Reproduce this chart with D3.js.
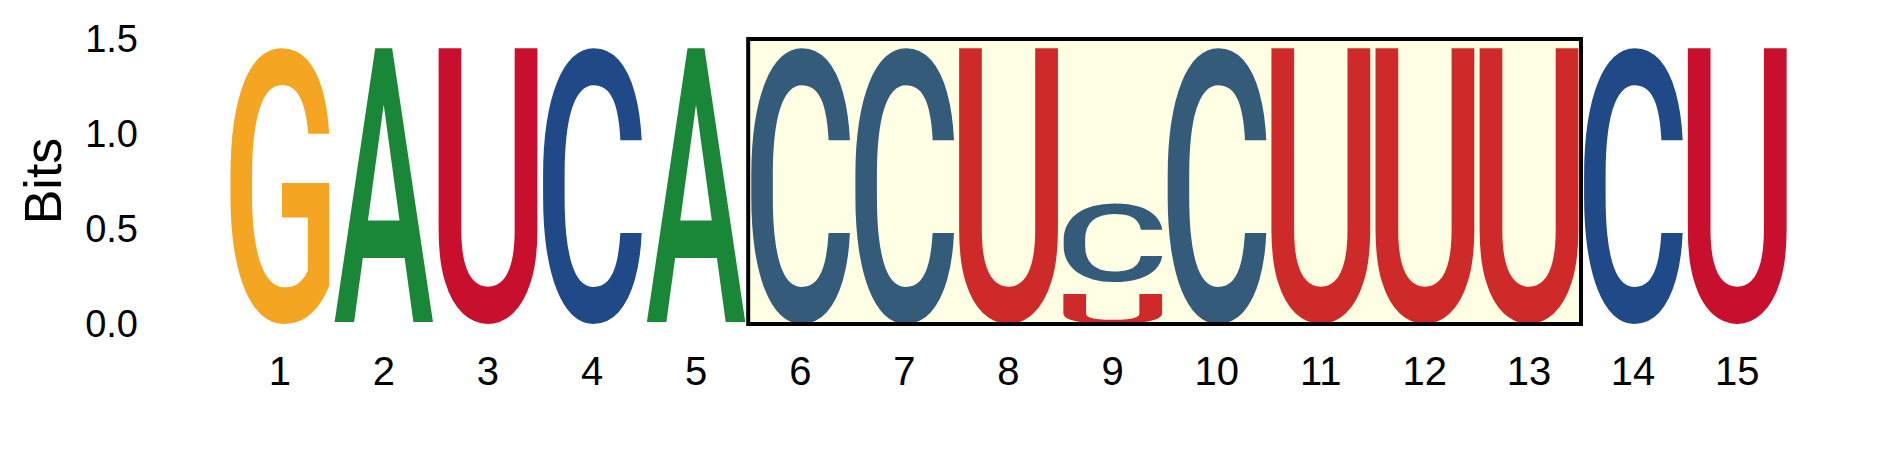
<!DOCTYPE html>
<html>
<head>
<meta charset="utf-8">
<script src="https://cdn.jsdelivr.net/npm/d3@7"></script>
<style>
  html, body { margin: 0; padding: 0; background: #ffffff; }
  svg { display: block; }
</style>
</head>
<body>
<svg id="chart" width="1889" height="472"></svg>
<script>
// ---------------- data ----------------
const positions = [1, 2, 3, 4, 5, 6, 7, 8, 9, 10, 11, 12, 13, 14, 15];
const positionLabels = ["1", "2", "3", "4", "5", "6", "7", "8", "9", "10", "11", "12", "13", "14", "15"];
// stacked letters, listed bottom-up within each position
const stackPos    = [1,    2,    3,    4,    5,    6,    7,    8,    9,    9,    10,   11,   12,   13,   14,   15];
const stackLetter = ["G",  "A",  "U",  "C",  "A",  "C",  "C",  "U",  "U",  "C",  "C",  "U",  "U",  "U",  "C",  "U"];
const stackBits   = [1.46, 1.46, 1.46, 1.46, 1.46, 1.46, 1.46, 1.46, 0.16, 0.48, 1.46, 1.46, 1.46, 1.46, 1.46, 1.46];
const yTicks = [0.0, 0.5, 1.0, 1.5];
const highlightRange = [6, 13];
const yTitle = "Bits";

// ---------------- styles ----------------
const normalColor = { G: "#F4A622", A: "#1A8738", U: "#C8102E", C: "#1F4A87" };
const highlightColor = { G: "#F4A622", A: "#1A8738", U: "#CF2A2A", C: "#345B7A" };
const glyphFont = 'Roboto, "Liberation Sans", Arial, sans-serif';
const glyphWeight = 500;
const labelFont = '"Liberation Sans", Arial, Helvetica, sans-serif';
const stackGap = 12;

function draw() {
  const svg = d3.select("#chart");

  const x = d3.scaleBand()
    .domain(positions)
    .range([227.7, 1789.2])
    .paddingInner(0.0442)
    .paddingOuter(0.0221);

  const y = d3.scaleLinear().domain([0, 1.5]).range([324, 39]);

  // ---- highlight box background ----
  const step = x.step();
  const gapHalf = (step - x.bandwidth()) / 2;
  const boxX0 = x(highlightRange[0]) - gapHalf;
  const boxX1 = x(highlightRange[1]) + x.bandwidth() + gapHalf;
  const boxY0 = y(1.5), boxY1 = y(0);

  svg.append("rect")
    .attr("x", boxX0).attr("y", boxY0)
    .attr("width", boxX1 - boxX0).attr("height", boxY1 - boxY0)
    .attr("fill", "#FFFFE3");

  // ---- glyph measuring ----
  const canvas = document.createElement("canvas");
  const ctx = canvas.getContext("2d");
  const FS = 200;
  ctx.font = `${glyphWeight} ${FS}px ${glyphFont}`;
  const inkCache = {};
  function ink(ch) {
    if (!inkCache[ch]) {
      const m = ctx.measureText(ch);
      inkCache[ch] = {
        l: -m.actualBoundingBoxLeft,
        r: m.actualBoundingBoxRight,
        t: -m.actualBoundingBoxAscent,
        b: m.actualBoundingBoxDescent
      };
    }
    return inkCache[ch];
  }

  // ---- build stacks ----
  const stacks = [];
  const cum = {};
  stackPos.forEach((p, i) => {
    const base = cum[p] || 0;
    stacks.push({ pos: p, letter: stackLetter[i], bits: stackBits[i], base: base, stacked: base > 0 });
    cum[p] = base + stackBits[i];
  });

  svg.append("g").selectAll("text.glyph")
    .data(stacks)
    .join("text")
    .attr("class", "glyph")
    .text(d => d.letter)
    .attr("font-family", glyphFont)
    .attr("font-weight", glyphWeight)
    .attr("font-size", FS)
    .attr("fill", d => (d.pos >= highlightRange[0] && d.pos <= highlightRange[1]) ? highlightColor[d.letter] : normalColor[d.letter])
    .attr("transform", d => {
      const k = ink(d.letter);
      const x0 = x(d.pos);
      const w = x.bandwidth();
      const yTop = y(d.base + d.bits);
      const yBot = y(d.base) - (d.stacked ? stackGap : 0);
      const h = yBot - yTop;
      const sx = w / (k.r - k.l);
      const sy = h / (k.b - k.t);
      return `translate(${x0},${yTop}) scale(${sx},${sy}) translate(${-k.l},${-k.t})`;
    });

  // ---- highlight box outline (on top) ----
  svg.append("rect")
    .attr("x", boxX0).attr("y", boxY0)
    .attr("width", boxX1 - boxX0).attr("height", boxY1 - boxY0)
    .attr("fill", "none")
    .attr("stroke", "#000")
    .attr("stroke-width", 4);

  // ---- y axis (labels only) ----
  const yAxis = d3.axisLeft(y).tickValues(yTicks).tickFormat(d3.format(".1f")).tickSize(0).tickPadding(0);
  const gy = svg.append("g").attr("transform", "translate(138,0)").call(yAxis);
  gy.select(".domain").remove();
  gy.selectAll("text")
    .attr("font-family", labelFont)
    .attr("font-size", 38)
    .attr("fill", "#000");

  // ---- x axis (labels only) ----
  const xAxis = d3.axisBottom(x).tickFormat((d, i) => positionLabels[i]).tickSize(0).tickPadding(0);
  const gx = svg.append("g").attr("transform", "translate(0,371)").call(xAxis);
  gx.select(".domain").remove();
  gx.selectAll("text")
    .attr("font-family", labelFont)
    .attr("font-size", 40)
    .attr("fill", "#000")
    .attr("dy", "0.35em");

  // ---- y title ----
  svg.append("text")
    .attr("transform", "translate(61,181) rotate(-90)")
    .attr("text-anchor", "middle")
    .attr("font-family", labelFont)
    .attr("font-size", 52)
    .attr("fill", "#000")
    .text(yTitle);
}

if (document.fonts && document.fonts.load) {
  document.fonts.load(`${glyphWeight} 200px Roboto`).then(draw, draw);
} else {
  draw();
}
</script>
</body>
</html>
